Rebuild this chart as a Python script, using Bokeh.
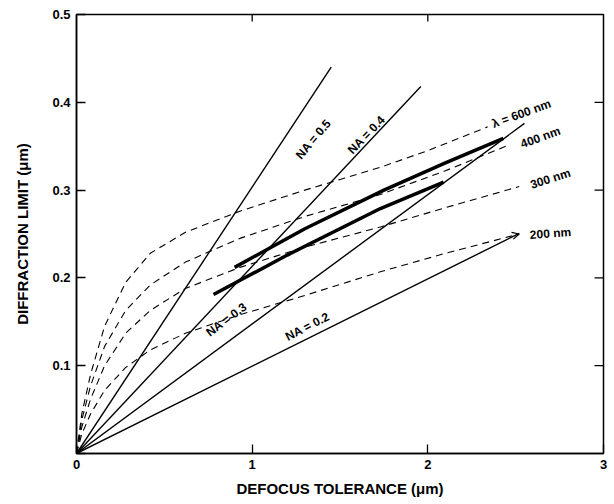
from bokeh.plotting import figure
from bokeh.models import Range1d, FixedTicker, Arrow, OpenHead
from bokeh.core.properties import value
from bokeh.embed import file_html
from bokeh.resources import INLINE

# NA lines (straight from origin)
na_labels = ["NA = 0.5", "NA = 0.4", "NA = 0.3", "NA = 0.2"]
na_end_x = [1.45, 1.96, 2.55, 2.52]
na_end_y = [0.440, 0.418, 0.376, 0.2506]
na_label_x = [1.349, 1.651, 0.854, 1.315]
na_label_y = [0.358, 0.363, 0.1526, 0.1446]
na_label_angle = [50, 46, 37, 27]

# wavelength curves (dashed)
wl_labels = ["λ = 600 nm", "400 nm", "300 nm", "200 nm"]
wl600_x = [0, 0.03, 0.08, 0.16, 0.28, 0.42, 0.62, 0.93, 1.3, 1.73, 2.0, 2.34]
wl600_y = [0, 0.045, 0.090, 0.145, 0.195, 0.228, 0.252, 0.276, 0.300, 0.326, 0.345, 0.372]
wl400_x = [0, 0.03, 0.08, 0.16, 0.28, 0.42, 0.62, 0.93, 1.3, 1.73, 2.1, 2.47]
wl400_y = [0, 0.038, 0.077, 0.122, 0.163, 0.192, 0.218, 0.245, 0.270, 0.295, 0.322, 0.352]
wl300_x = [0, 0.03, 0.08, 0.16, 0.28, 0.42, 0.62, 0.93, 1.3, 1.73, 2.1, 2.52]
wl300_y = [0, 0.030, 0.062, 0.100, 0.137, 0.163, 0.188, 0.212, 0.235, 0.258, 0.280, 0.304]
wl200_x = [0, 0.03, 0.08, 0.16, 0.28, 0.42, 0.62, 0.93, 1.3, 1.73, 2.1, 2.52]
wl200_y = [0, 0.022, 0.045, 0.072, 0.098, 0.118, 0.137, 0.158, 0.180, 0.207, 0.228, 0.250]
wl_label_x = [2.533, 2.641, 2.698, 2.698]
wl_label_y = [0.387, 0.360, 0.313, 0.2506]
wl_label_angle = [20, 20, 18, 4]

# thick curves
thick1_x = [0.9, 1.3, 1.75, 2.1, 2.43]
thick1_y = [0.212, 0.256, 0.300, 0.331, 0.359]
thick2_x = [0.78, 1.2, 1.73, 2.09]
thick2_y = [0.181, 0.226, 0.279, 0.309]

x_ticks = [0, 1, 2, 3]
y_ticks = [0, 0.1, 0.2, 0.3, 0.4, 0.5]
y_tick_labels = ["", "0.1", "0.2", "0.3", "0.4", "0.5"]
right_ticks = [0.1, 0.2, 0.3, 0.4]
top_ticks = [1, 2]

FONT = "Liberation Sans"

p = figure(width=614, height=504, output_backend="svg", toolbar_location=None,
           x_range=Range1d(0, 3), y_range=Range1d(0, 0.5),
           min_border_left=76, min_border_right=11, min_border_top=14, min_border_bottom=51)
p.grid.visible = False
p.outline_line_color = "black"
p.outline_line_width = 1.5
p.background_fill_color = "white"
p.border_fill_color = "white"

for ax in (p.xaxis[0], p.yaxis[0]):
    ax.axis_line_width = 1.5
    ax.axis_line_color = "black"
    ax.major_tick_in = 9
    ax.major_tick_out = 0
    ax.minor_tick_line_color = None
    ax.major_tick_line_width = 1.3
    ax.major_label_text_font = FONT
    ax.major_label_text_font_style = "bold"
    ax.major_label_text_font_size = "13px"
    ax.major_label_text_color = "black"
    ax.axis_label_text_font = FONT
    ax.axis_label_text_font_style = "bold"
    ax.axis_label_text_font_size = "15px"
    ax.axis_label_text_color = "black"

p.xaxis[0].ticker = FixedTicker(ticks=x_ticks)
p.yaxis[0].ticker = FixedTicker(ticks=y_ticks)
p.yaxis[0].major_label_overrides = {t: l for t, l in zip(y_ticks, y_tick_labels)}
p.xaxis[0].axis_label = "DEFOCUS TOLERANCE (μm)"
p.yaxis[0].axis_label = "DIFFRACTION LIMIT (μm)"
p.xaxis[0].major_label_standoff = 6
p.xaxis[0].axis_label_standoff = 8
p.yaxis[0].major_label_standoff = 6
p.yaxis[0].axis_label_standoff = 18

# inside ticks on the right and top edges of the frame
p.ray(x=[3] * len(right_ticks), y=right_ticks, length=9, length_units="screen",
      angle=180, angle_units="deg", line_color="black", line_width=1.3)
p.ray(x=top_ticks, y=[0.5] * len(top_ticks), length=7, length_units="screen",
      angle=-90, angle_units="deg", line_color="black", line_width=1.3)

# NA lines
for ex, ey in zip(na_end_x, na_end_y):
    p.line([0, ex], [0, ey], line_color="black", line_width=1.4)

# wavelength curves
for xs, ys in ((wl600_x, wl600_y), (wl400_x, wl400_y), (wl300_x, wl300_y), (wl200_x, wl200_y)):
    p.line(xs, ys, line_color="black", line_width=1.1, line_dash="7 5")

# arrow head at the end of the 200 nm curve
p.add_layout(Arrow(end=OpenHead(size=7, line_width=1.2, line_color="black"),
                   x_start=wl200_x[-2], y_start=wl200_y[-2],
                   x_end=wl200_x[-1], y_end=wl200_y[-1], line_alpha=0))

# thick curves
p.line(thick1_x, thick1_y, line_color="black", line_width=3.5, line_join="round")
p.line(thick2_x, thick2_y, line_color="black", line_width=3.5, line_join="round")

# labels
for lab, lx, ly, la in zip(na_labels, na_label_x, na_label_y, na_label_angle):
    p.text(x=[lx], y=[ly], text=[lab], angle=la, angle_units="deg",
           text_font=value(FONT), text_font_style="bold", text_font_size="12px",
           text_align="center", text_baseline="middle", text_color="black")
for lab, lx, ly, la in zip(wl_labels, wl_label_x, wl_label_y, wl_label_angle):
    p.text(x=[lx], y=[ly], text=[lab], angle=la, angle_units="deg",
           text_font=value(FONT), text_font_style="bold", text_font_size="12px",
           text_align="center", text_baseline="middle", text_color="black")

open("out.html", "w").write(file_html(p, INLINE))
